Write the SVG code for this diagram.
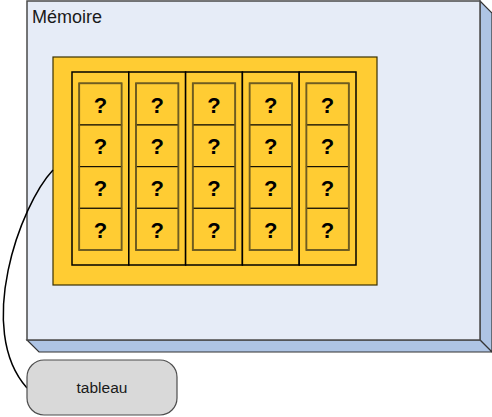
<svg xmlns="http://www.w3.org/2000/svg" width="492" height="417" viewBox="0 0 492 417">
<style>
.face{fill:#E6ECF7;stroke:#4a4a4a;stroke-width:1.5}
.side{fill:#AEC4E4;stroke:#333;stroke-width:1.2;stroke-linejoin:miter}
.yel{fill:#FFCC33;stroke:#3a3000;stroke-width:1.2}
.col{fill:#FFCC33;stroke:#000;stroke-width:1.5}
.cell{fill:#FFCC33;stroke:#000;stroke-width:1}
.cellout{fill:none;stroke:#6e5c22;stroke-width:1.8}
.q{font-family:"Liberation Sans",Arial,sans-serif;font-weight:bold;font-size:22px;text-anchor:middle;fill:#000}
.lbl{font-family:"Liberation Sans",Arial,sans-serif;fill:#1a1a1a}
.conn{fill:none;stroke:#000;stroke-width:1.5}
</style>
<defs>
<g id="cellcol">
<rect class="col" x="0" y="0" width="56.8" height="193"/>
<rect class="cell" x="7.2" y="11.3" width="42.4" height="41.7"/>
<rect class="cell" x="7.2" y="53" width="42.4" height="41.7"/>
<rect class="cell" x="7.2" y="94.7" width="42.4" height="41.6"/>
<rect class="cell" x="7.2" y="136.3" width="42.4" height="41.7"/>
<rect class="cellout" x="7.2" y="11.3" width="42.4" height="166.7"/>
<text class="q" x="28.4" y="40.5">?</text>
<text class="q" x="28.4" y="82.2">?</text>
<text class="q" x="28.4" y="123.9">?</text>
<text class="q" x="28.4" y="165.5">?</text>
</g>
</defs>
<g id="memoire">
<polygon class="side" points="480,1 492,13 492,352 480,340"/>
<polygon class="side" points="27,340 480,340 492,352 39,352"/>
<rect class="face" x="27" y="1" width="453" height="339"/>
<text class="lbl" x="32" y="23" font-size="18">Mémoire</text>
</g>
<g id="array">
<rect class="yel" x="53" y="57" width="324" height="228"/>
<use href="#cellcol" x="72" y="72"/>
<use href="#cellcol" x="128.8" y="72"/>
<use href="#cellcol" x="185.6" y="72"/>
<use href="#cellcol" x="242.4" y="72"/>
<use href="#cellcol" x="299.2" y="72"/>
</g>
<g id="connectors">
<path class="conn" d="M53,170 C20,205 -25,330 27,388"/>
</g>
<g id="tableau">
<rect x="27" y="360" width="150" height="55" rx="17" ry="17" fill="#D9D9D9" stroke="#4d4d4d" stroke-width="1.2"/>
<text class="lbl" x="102" y="393" font-size="15.5" text-anchor="middle">tableau</text>
</g>
</svg>
